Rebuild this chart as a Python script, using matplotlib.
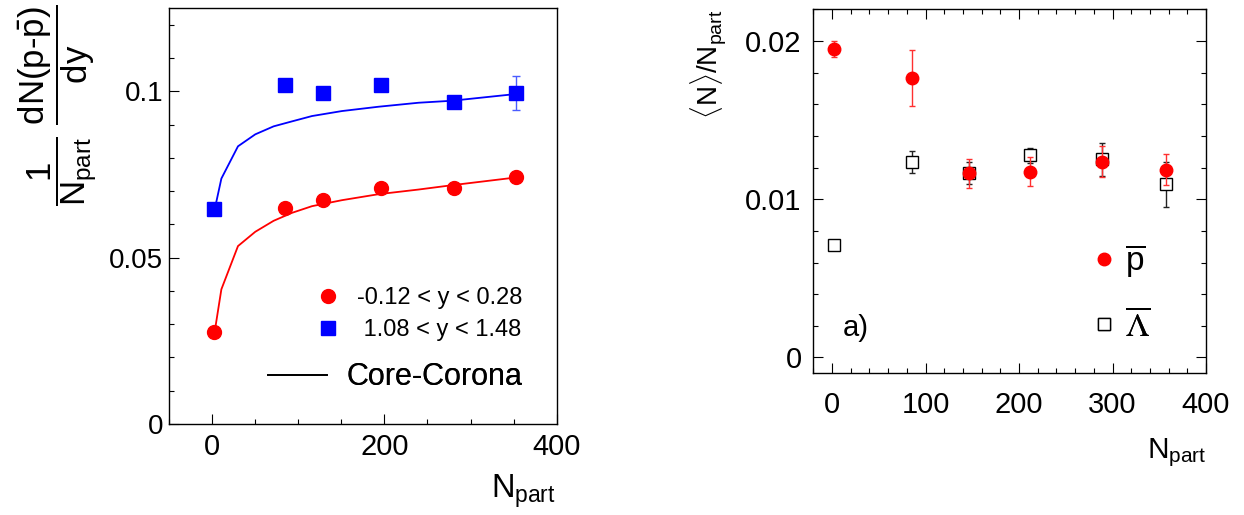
import matplotlib
matplotlib.use("Agg")
import matplotlib.pyplot as plt
from matplotlib.lines import Line2D
from matplotlib.ticker import MultipleLocator, FuncFormatter

plt.rcParams['font.family'] = ['Liberation Sans', 'DejaVu Sans']
plt.rcParams['mathtext.fontset'] = 'custom'
plt.rcParams['mathtext.rm'] = 'Liberation Sans'
plt.rcParams['mathtext.it'] = 'Liberation Sans'
plt.rcParams['mathtext.bf'] = 'Liberation Sans:bold'
plt.rcParams['mathtext.sf'] = 'Liberation Sans'

# ---------------- data: left panel ----------------
npart_left = [2.3, 84.8, 128.1, 196.0, 280.3, 352.3]
yield_mid = [0.0277, 0.0648, 0.0673, 0.0711, 0.0710, 0.0743]
yield_mid_err = [0.0003, 0.0005, 0.0005, 0.0005, 0.0006, 0.0016]
yield_fwd = [0.0646, 0.1019, 0.0994, 0.1019, 0.0969, 0.0994]
yield_fwd_err = [0.0003, 0.0005, 0.0005, 0.0005, 0.0006, 0.0051]

npart_cc = [2.7, 10.5, 29.8, 49.9, 71.2, 92.6, 115.8, 150.6, 193.1, 239.6, 278.4, 351.9]
cc_mid = [0.0277, 0.0405, 0.0535, 0.0578, 0.0611, 0.0635, 0.0655, 0.0673, 0.0691, 0.0705, 0.0718, 0.0741]
cc_fwd = [0.0645, 0.0738, 0.0835, 0.0871, 0.0895, 0.0910, 0.0926, 0.0941, 0.0954, 0.0966, 0.0972, 0.0992]

label_mid = "-0.12 < y < 0.28"
label_fwd = " 1.08 < y < 1.48"
label_cc = "Core-Corona"

# ---------------- data: right panel ----------------
npart_right = [2.5, 85.5, 146.0, 212.0, 288.5, 357.0]
pbar = [0.01947, 0.01766, 0.01164, 0.01174, 0.01237, 0.01185]
pbar_err = [0.0005, 0.0018, 0.0009, 0.0009, 0.00098, 0.00098]
lambar = [0.00712, 0.01233, 0.01164, 0.01279, 0.01252, 0.01094]
lambar_err = [0.0001, 0.0007, 0.0007, 0.00047, 0.00105, 0.0014]

fig = plt.figure(figsize=(12.44, 5.15), dpi=100)

fmt = FuncFormatter(lambda v, p: ("%g" % round(v, 6)))

# ================= left panel =================
axL = fig.add_axes([0.1361, 0.1767, 0.3113, 0.8072])
axL.plot(npart_cc, cc_fwd, color='#0000ff', lw=1.3, zorder=2)
axL.plot(npart_cc, cc_mid, color='#ff0000', lw=1.3, zorder=2)
axL.errorbar(npart_left, yield_fwd, yerr=yield_fwd_err, fmt='s', color='#0000ff',
             ms=9.5, ecolor='#4a5cff', elinewidth=1.0, capsize=3, capthick=1.0, zorder=3)
axL.errorbar(npart_left, yield_mid, yerr=yield_mid_err, fmt='o', color='#ff0000',
             ms=10, ecolor='#ff4040', elinewidth=1.0, capsize=3, capthick=1.0, zorder=3)
axL.set_xlim(-50, 400)
axL.set_ylim(0, 0.125)
axL.xaxis.set_major_locator(MultipleLocator(200))
axL.xaxis.set_minor_locator(MultipleLocator(50))
axL.yaxis.set_major_locator(MultipleLocator(0.05))
axL.yaxis.set_minor_locator(MultipleLocator(0.01))
axL.xaxis.set_major_formatter(fmt)
axL.yaxis.set_major_formatter(fmt)
axL.tick_params(which='both', direction='in', top=False, right=False, width=0.8)
axL.tick_params(which='major', length=7.2)
axL.tick_params(which='minor', length=3.6)
axL.tick_params(axis='x', which='major', labelsize=21, pad=6.5)
axL.tick_params(axis='y', which='major', labelsize=20, pad=4.3)
for s in axL.spines.values():
    s.set_linewidth(1.0)


def key(ax, handle, label, x, y, fs, hl, pad, mathfam=None):
    leg = ax.legend([handle], [label], loc='center left', bbox_to_anchor=(x, y),
                    bbox_transform=ax.transAxes, frameon=False, borderpad=0,
                    borderaxespad=0, handlelength=hl, handletextpad=pad,
                    fontsize=fs, numpoints=1)
    if mathfam:
        for t in leg.get_texts():
            t.set_math_fontfamily(mathfam)
    ax.add_artist(leg)
    return leg


key(axL, Line2D([], [], marker='o', color='#ff0000', ls='none', ms=10),
    label_mid, 0.3786, 0.3024, 17, 1.0, 0.74)
key(axL, Line2D([], [], marker='s', color='#0000ff', ls='none', ms=9.5),
    label_fwd, 0.3786, 0.2261, 17, 1.0, 0.74)
key(axL, Line2D([], [], color='black', lw=1.3),
    label_cc, 0.2558, 0.1119, 22, 1.93, 0.64)

fig.text(0.046, 0.795,
         r'$\dfrac{1}{N_{\mathrm{part}}}\ \dfrac{dN(p\text{-}\bar{p})}{dy}$',
         rotation=90, ha='center', va='center', fontsize=25)
fig.text(0.447, 0.033, r'$N_{\mathrm{part}}$', ha='right', va='baseline', fontsize=23.5)

# ================= right panel =================
axR = fig.add_axes([0.6538, 0.2751, 0.3157, 0.7068])
axR.errorbar(npart_right, lambar, yerr=lambar_err, fmt='s', mfc='white', mec='black',
             mew=1.0, ms=9, ecolor='#222222', elinewidth=1.0, capsize=2.5, capthick=1.0,
             zorder=3)
axR.errorbar(npart_right, pbar, yerr=pbar_err, fmt='o', color='#ff0000', ms=9,
             ecolor='#ff3030', elinewidth=1.0, capsize=2.5, capthick=1.0, zorder=4)
axR.set_xlim(-20, 400)
axR.set_ylim(-0.001, 0.022)
axR.xaxis.set_major_locator(MultipleLocator(100))
axR.xaxis.set_minor_locator(MultipleLocator(20))
axR.yaxis.set_major_locator(MultipleLocator(0.01))
axR.yaxis.set_minor_locator(MultipleLocator(0.002))
axR.xaxis.set_major_formatter(fmt)
axR.yaxis.set_major_formatter(fmt)
axR.tick_params(which='both', direction='in', top=True, right=True, width=0.8)
axR.tick_params(which='major', length=7.2)
axR.tick_params(which='minor', length=3.6)
axR.tick_params(axis='x', which='major', labelsize=21, pad=13)
axR.tick_params(axis='y', which='major', labelsize=21, pad=8.4)
for s in axR.spines.values():
    s.set_linewidth(1.0)

key(axR, Line2D([], [], marker='o', color='#ff0000', ls='none', ms=9),
    r'$\overline{\mathrm{p}}$', 0.7148, 0.3085, 24, 0.6, 0.33)
key(axR, Line2D([], [], marker='s', mfc='white', mec='black', mew=1.0, ls='none', ms=9),
    r'$\overline{\Lambda}$', 0.7148, 0.130, 24, 0.6, 0.33, mathfam='stix')

axR.text(0.0756, 0.1245, 'a)', transform=axR.transAxes, ha='left', va='center', fontsize=21)

fig.text(0.570, 0.9806, r'$\langle N\rangle/N_{\mathrm{part}}$', rotation=90,
         ha='center', va='top', fontsize=20)
fig.text(0.9695, 0.110, r'$N_{\mathrm{part}}$', ha='right', va='baseline', fontsize=21.5)

fig.savefig('out.png', dpi=100)
